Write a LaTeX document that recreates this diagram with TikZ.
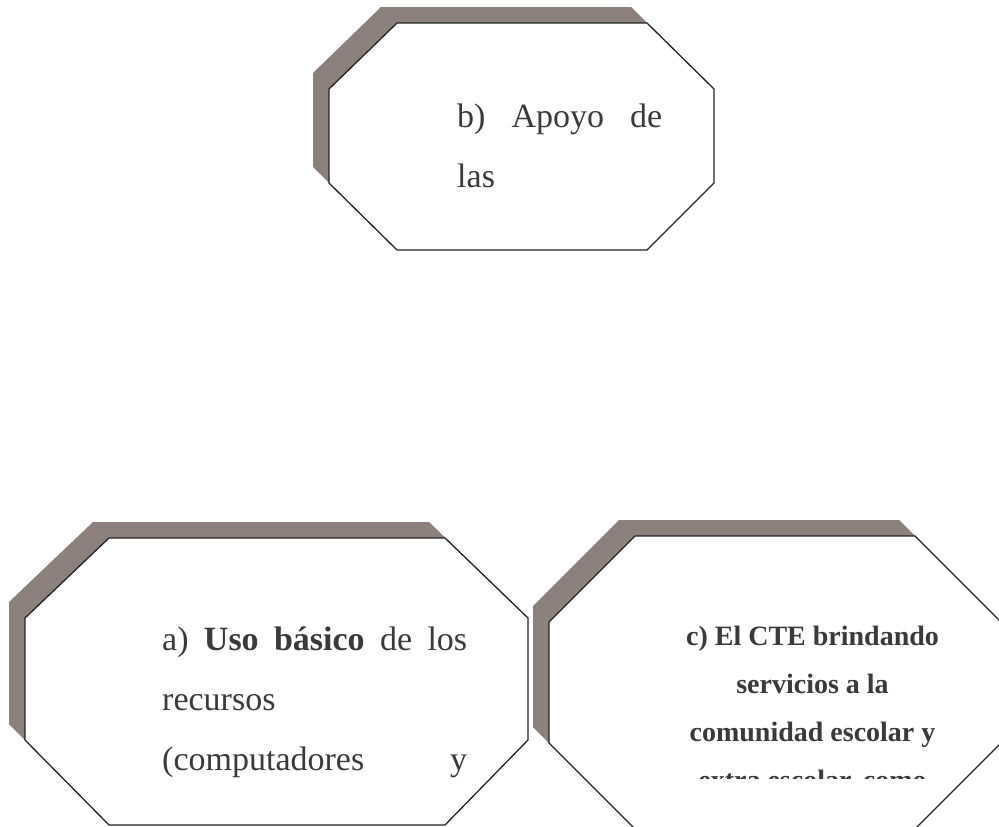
\documentclass[tikz,border=0pt]{standalone}
\usepackage{fontspec}
\setmainfont{Liberation Serif}
\definecolor{shadowc}{RGB}{140,128,124}
\definecolor{linec}{RGB}{35,35,35}
\definecolor{txtc}{RGB}{58,58,58}
\begin{document}
\begin{tikzpicture}[x=1pt,y=-1pt,
  shadowbox/.style={fill=shadowc,draw=none},
  octbox/.style={fill=white,draw=linec,line width=1.3pt,line join=miter},
  txt/.style={inner sep=0pt,anchor=base west,text=txtc,font=\fontsize{34}{40}\selectfont},
  ctxt/.style={inner sep=0pt,anchor=base,text=txtc,font=\fontsize{28}{34}\selectfont\bfseries}]
\useasboundingbox (0,0) rectangle (999,827);
% octagon b
\fill[shadowbox,shift={(-16,-16)}] (397,23) -- (647,23) -- (714,89) -- (714,183) -- (647,250) -- (397,250) -- (329,183) -- (329,89) -- cycle;
\draw[octbox] (397,23) -- (647,23) -- (714,89) -- (714,183) -- (647,250) -- (397,250) -- (329,183) -- (329,89) -- cycle;
% octagon a
\fill[shadowbox,shift={(-16,-16)}] (109,538) -- (445,538) -- (528,618) -- (528,740) -- (445,825) -- (109,825) -- (25,740) -- (25,618) -- cycle;
\draw[octbox] (109,538) -- (445,538) -- (528,618) -- (528,740) -- (445,825) -- (109,825) -- (25,740) -- (25,618) -- cycle;
% octagon c
\fill[shadowbox,shift={(-16,-16)}] (635,536) -- (915,536) -- (1001,622) -- (1001,743) -- (915,829) -- (635,829) -- (549,743) -- (549,622) -- cycle;
\draw[octbox] (635,536) -- (915,536) -- (1001,622) -- (1001,743) -- (915,829) -- (635,829) -- (549,743) -- (549,622) -- cycle;
% texts
\node[txt] (b1) at (457,127) {\makebox[205pt][s]{b) Apoyo de}};
\node[txt] (b2) at (457,187) {las};
\node[txt] (a1) at (162,650) {\makebox[305pt][s]{a) \textbf{Uso básico} de los}};
\node[txt] (a2) at (162,710) {recursos};
\node[txt] (a3) at (162,770) {\makebox[305pt][s]{(computadores y}};
\node[ctxt] (c1) at (812.5,645) {c) El CTE brindando};
\node[ctxt] (c2) at (812.5,693) {servicios a la};
\node[ctxt] (c3) at (812.5,741) {comunidad escolar y};
\begin{scope}
\clip (560,700) rectangle (990,778);
\node[ctxt] (c4) at (812.5,789) {extra escolar, como};
\end{scope}
\end{tikzpicture}
\end{document}
